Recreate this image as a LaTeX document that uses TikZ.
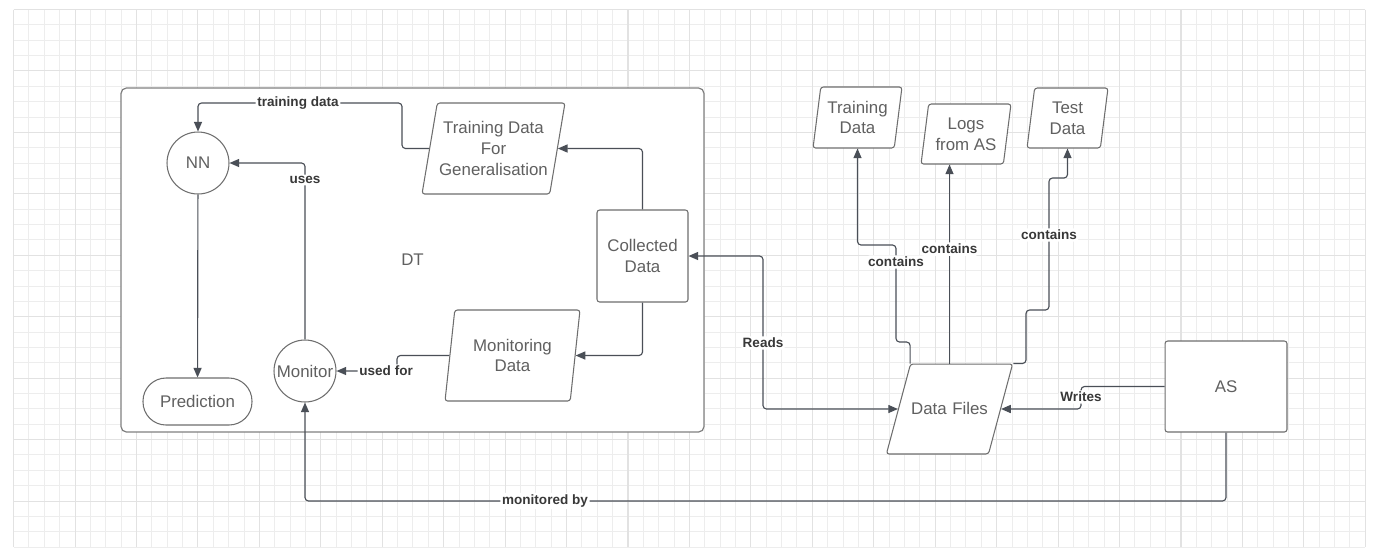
\documentclass[tikz,border=0pt]{standalone}
\usepackage{fontspec}
\setmainfont{Liberation Sans}
\usetikzlibrary{arrows.meta,shapes.geometric}

\definecolor{lineclr}{HTML}{4A4F57}
\definecolor{boxclr}{HTML}{6E6E6E}
\definecolor{txtclr}{HTML}{606060}
\definecolor{gridminor}{HTML}{EDEDED}
\definecolor{gridmajor}{HTML}{E2E2E2}

\begin{document}
\begin{tikzpicture}[>={Triangle[length=5.5pt,width=4.6pt]},x=0.02cm,y=-0.02cm,
  every node/.style={font=\fontsize{9.6}{11.7}\selectfont,text=txtclr},
  block/.style={draw=boxclr,line width=0.6pt,fill=white,rounded corners=1.5pt,align=center},
  ring/.style={block,circle,minimum size=1.24cm,inner sep=0pt},
  bigdata/.style={block,trapezium,trapezium left angle=75,trapezium right angle=105,trapezium stretches body,inner sep=1pt},
  smalldata/.style={block,trapezium,trapezium left angle=78,trapezium right angle=102,trapezium stretches body,inner sep=1pt},
  conn/.style={->,draw=lineclr,line width=0.65pt,rounded corners=2pt},
  lbl/.style={fill=white,inner sep=1pt,text=black!78,font=\fontsize{7.7}{9}\selectfont\bfseries}]
\useasboundingbox (0,0) rectangle (1378,559);
% background grid
\foreach \i in {0,...,88} \draw[gridminor,line width=0.55pt] (13.6+15.36*\i,9.5) -- ++(0,537.6);
\foreach \j in {0,...,35} \draw[gridminor,line width=0.55pt] (13.6,9.5+15.36*\j) -- ++(1351.7,0);
\foreach \i in {0,4,...,88} \draw[gridmajor,line width=0.6pt] (13.6+15.36*\i,9.5) -- ++(0,537.6);
\foreach \j in {0,4,...,32} \draw[gridmajor,line width=0.6pt] (13.6,9.5+15.36*\j) -- ++(1351.7,0);

% digital twin container
\node[block,draw=black!50,line width=0.7pt,rounded corners=3pt,minimum width=11.66cm,minimum height=6.88cm] (dt) at (412.5,260) {DT};

% inside the twin
\node[ring] (nn) at (198,163) {NN};
\node[ring] (mon) at (305,371) {Monitor};
\node[block,rounded corners=0.46cm,minimum width=2.18cm,minimum height=0.94cm] (pred) at (197.5,401.5) {Prediction};
\node[bigdata,minimum width=2.86cm,minimum height=1.82cm] (tdg) at (493.5,148.5) {Training Data\\For\\Generalisation};
\node[bigdata,minimum width=2.7cm,minimum height=1.82cm] (md) at (512.5,355.5) {Monitoring\\Data};
\node[block,minimum width=1.82cm,minimum height=1.84cm] (coll) at (642.5,256) {Collected\\Data};

% files and the system
\node[smalldata,minimum width=1.78cm,minimum height=1.22cm] (train) at (857.5,117.5) {Training\\Data};
\node[smalldata,minimum width=1.8cm,minimum height=1.2cm] (logs) at (966,134) {Logs\\from AS};
\node[smalldata,minimum width=1.62cm,minimum height=1.2cm] (test) at (1067.5,118) {Test\\Data};
\node[bigdata,inner sep=0pt,text width=1.56cm,text height=29pt,text depth=22.2pt] (files) at (949.5,409) {Data Files};
\node[block,minimum width=2.44cm,minimum height=1.82cm] (as) at (1226,386.5) {AS};

% connectors in the twin
\draw[conn] (nn) -- (pred);
\draw[conn] (mon.north) -- (305,180) node[lbl] {uses} |- (nn.east);
\draw[conn] (tdg.west) -| (402,103) -- (298,103) node[lbl] {training data} -| (nn.north);
\draw[conn] (coll.north) |- (tdg.east);
\draw[conn] (coll.south) |- (md.east);
\draw[conn] (md.west) -| (397,371) -- node[lbl,pos=0.18] {used for} (mon.east);

% connectors outside
\draw[conn,<->] (coll.east) -| (763,343) node[lbl] {Reads} |- (files.west);
\draw[conn] (as.west) -| (1081,397) node[lbl] {Writes} |- (files.east);
\draw[conn] (as.south) |- (545,501) node[lbl] {monitored by} -| (mon.south);
\draw[conn] (files.top left corner) |- (896,342) -- (896,262) node[lbl] {contains} -- (896,245) -| (train.center |- train.south);
\draw[conn] (files.center |- files.top left corner) -- node[lbl,pos=0.575] {contains} (files.center |- logs.south);
\draw[conn] (files.top right corner) -| (1026,310) -- (1049,310) -- (1049,235) node[lbl] {contains} -- (1049,178) -| (test.center |- test.south);
\end{tikzpicture}
\end{document}
